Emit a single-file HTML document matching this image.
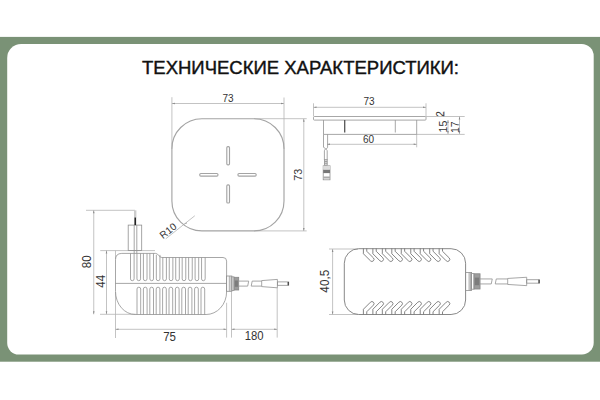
<!DOCTYPE html>
<html><head><meta charset="utf-8">
<style>
html,body{margin:0;padding:0;background:#fff;width:600px;height:400px;overflow:hidden}
svg{display:block}
text{font-family:"Liberation Sans",sans-serif}
</style></head>
<body>
<svg width="600" height="400" viewBox="0 0 600 400">
<rect x="0" y="0" width="600" height="400" fill="#fff"/>
<rect x="0" y="36.9" width="600" height="324.8" fill="#7a9276"/>
<path d="M21.2 43.9H581.7A12 12 0 0 1 593.7 55.9V342.7A11.8 11.8 0 0 1 581.9 354.5H18.7A11.5 11.5 0 0 1 7.2 343V57.9A14 14 0 0 1 21.2 43.9Z" fill="#fff"/>
<text x="142" y="73.5" font-size="18" textLength="317" lengthAdjust="spacingAndGlyphs" fill="#111" stroke="#111" stroke-width="0.4">ТЕХНИЧЕСКИЕ ХАРАКТЕРИСТИКИ:</text>
<g fill="none" stroke="#b4b4b4" stroke-width="0.8"><path d="M171.9 97.2V149 M284 97.5V149 M171.9 103.5H284 M254 118.7H306.7 M254 230.9H306.7 M303.8 118.7V230.9 M194.8 215.75L165.75 238.8 M313.5 103.3V116 M426 103.3V116 M313.5 107.3H426 M426 116.5H464.7 M416.7 134.4H464.7 M416.7 134.4V147.3 M327 144.3H416.7 M448 120V134 M459.5 116.5V134 M444.3 111.5V116.4 M86 210.3H135 M93.75 210.3V314.3 M100.25 250.6H155 M106.5 250.6V314.3 M100 314.3H136 M115.5 250.6V259 M115.5 292V338 M226.6 302.75V337.6 M231.5 291.5V337.6 M277.2 287.75V337.6 M115.5 329.3H226.6 M231.5 329.3H277.2 M329 249H358 M329 314.5H358 M332.6 249V314.5"/></g>
<g fill="#8a8a8a" stroke="none"><path d="M171.9 103.5L174.9 102.7L174.9 104.3Z M284 103.5L281 102.7L281 104.3Z M303.8 118.7L303 121.7L304.6 121.7Z M303.8 230.9L303 227.9L304.6 227.9Z M184 224.2L186.6 222.6L187.1 223.3Z M313.5 107.3L316.5 106.5L316.5 108.1Z M426 107.3L423 106.5L423 108.1Z M327 144.3L330 143.5L330 145.1Z M416.7 144.3L413.7 143.5L413.7 145.1Z M448 120L447.2 123L448.8 123Z M448 134L447.2 131L448.8 131Z M459.5 116.5L458.7 119.5L460.3 119.5Z M459.5 134L458.7 131L460.3 131Z M93.75 210.3L92.95 213.3L94.55 213.3Z M93.75 314.3L92.95 311.3L94.55 311.3Z M106.5 250.6L105.7 253.6L107.3 253.6Z M106.5 314.3L105.7 311.3L107.3 311.3Z M115.5 329.3L118.5 328.5L118.5 330.1Z M226.6 329.3L223.6 328.5L223.6 330.1Z M231.5 329.3L234.5 328.5L234.5 330.1Z M277.2 329.3L274.2 328.5L274.2 330.1Z M332.6 249L331.8 252L333.4 252Z M332.6 314.5L331.8 311.5L333.4 311.5Z"/></g>
<g fill="none" stroke="#909090" stroke-width="0.8"><g stroke="#a4a4a4" stroke-width="1.15"><rect x="171.9" y="118.7" width="112.1" height="112.2" rx="30"/><rect x="226.8" y="146.6" width="2.7" height="18.2" rx="1.1"/><rect x="226.8" y="184.8" width="2.7" height="18.2" rx="1.1"/><rect x="199.75" y="173.45" width="18.2" height="2.7" rx="1.1"/><rect x="237.95" y="173.45" width="18.2" height="2.7" rx="1.1"/></g><rect x="313.5" y="116.5" width="112.5" height="3.6" rx="0.8"/><path d="M323.5 120.1V134.4H416.7V120.1 M395.3 120.1V132.5"/><path d="M323.5 134.4V147.3 M327.6 134.4V147.3 M323.5 147.3L325.6 148.6L324.4 150.7 M327.6 147.3L326.2 149.2L327.2 150.7 M324.4 150.7V160 M327.2 150.7V160"/><rect x="324.4" y="159.7" width="2.8" height="5.6" fill="#ddd"/><path d="M324.4 161.5H327.2 M324.4 163.3H327.2" stroke="#999" stroke-width="0.9"/><rect x="323.2" y="165.8" width="6.8" height="14"/><rect x="323.2" y="165.8" width="6.8" height="4" fill="#ddd" stroke="none"/><rect x="323.2" y="169.8" width="6.8" height="3.3" fill="#777" stroke="none"/><rect x="323.2" y="176.5" width="6.8" height="2" fill="#aaa" stroke="none"/><path d="M344.7 120.1V132.5" stroke="#555" stroke-width="1.3"/><rect x="128.2" y="225.1" width="13.5" height="25.3" /><path d="M134.2 225.1V253.4 M136.8 225.1V253.4"/><path d="M115.5 259.8 Q115.5 253.4 121.8 253.4 H155.5 C158.8 253.4 158.6 257.5 161.9 257.5 H223 Q226.6 257.5 226.6 261.1 V291.8 A20.5 22.7 0 0 1 206.1 314.5 H135.3 A19.8 23.2 0 0 1 115.5 291.3 Z"/><path d="M115.5 283.4H226.6"/><path d="M130.5 253.4V278.9 A1.8 1.8 0 0 0 134.1 278.9V253.4 M136.96 253.4V278.9 A1.8 1.8 0 0 0 140.56 278.9V253.4 M143.42 253.4V278.9 A1.8 1.8 0 0 0 147.02 278.9V253.4 M149.88 253.4V278.9 A1.8 1.8 0 0 0 153.48 278.9V253.4 M156.34 254.91V278.9 A1.8 1.8 0 0 0 159.94 278.9V254.91 M162.8 257.5V278.9 A1.8 1.8 0 0 0 166.4 278.9V257.5 M169.26 257.5V278.9 A1.8 1.8 0 0 0 172.86 278.9V257.5 M175.72 257.5V278.9 A1.8 1.8 0 0 0 179.32 278.9V257.5 M182.18 257.5V278.9 A1.8 1.8 0 0 0 185.78 278.9V257.5 M188.64 257.5V278.9 A1.8 1.8 0 0 0 192.24 278.9V257.5 M195.1 257.5V278.9 A1.8 1.8 0 0 0 198.7 278.9V257.5 M201.56 257.5V278.9 A1.8 1.8 0 0 0 205.16 278.9V257.5 M137 314.5V289.05 A1.85 1.85 0 0 1 140.7 289.05V314.5 M143.4 314.5V289.05 A1.85 1.85 0 0 1 147.1 289.05V314.5 M149.8 314.5V289.05 A1.85 1.85 0 0 1 153.5 289.05V314.5 M156.2 314.5V289.05 A1.85 1.85 0 0 1 159.9 289.05V314.5 M162.6 314.5V289.05 A1.85 1.85 0 0 1 166.3 289.05V314.5 M169 314.5V289.05 A1.85 1.85 0 0 1 172.7 289.05V314.5 M175.4 314.5V289.05 A1.85 1.85 0 0 1 179.1 289.05V314.5 M181.8 314.5V289.05 A1.85 1.85 0 0 1 185.5 289.05V314.5 M188.2 314.5V289.05 A1.85 1.85 0 0 1 191.9 289.05V314.5 M194.6 314.5V289.05 A1.85 1.85 0 0 1 198.3 289.05V314.5 M201 314.5V289.05 A1.85 1.85 0 0 1 204.7 289.05V314.5"/><rect x="226.5" y="276" width="5.4" height="15.3"/><path d="M229.3 276V291.3 M231 276V291.3"/><rect x="231.9" y="276.85" width="2.1" height="13.6"/><rect x="234" y="277.3" width="4.7" height="12.7" fill="#9c9c9c" stroke="#888"/><rect x="234.8" y="280.47" width="3.1" height="6.35" fill="#7c7c7c" stroke="none"/><path d="M238.7 281.1H248.7 L247.7 286.1H238.7"/><path d="M252.2 281.1H261.7 M251.2 286.1H261.7 M252.2 281.1L251.2 286.1"/><path d="M261.7 280.6L277.4 279.4V287.8L261.7 286.6Z"/><rect x="277.4" y="281.9" width="11.3" height="3.4"/><path d="M288.2 281.9V285.3" stroke="#333" stroke-width="1.2"/><rect x="344.3" y="248.7" width="121.3" height="65.8" rx="14.5" stroke="#7a7a7a" stroke-width="0.9"/><path d="M363.4 248.4V253.75 L370.47 260.82 A2.07 2.07 0 0 0 373.4 257.89 L366.75 251.25V248.4 M363.4 314.6V309.25 L370.47 302.18 A2.07 2.07 0 0 1 373.4 305.11 L366.75 311.75V314.6 M372.87 248.4V253.75 L379.94 260.82 A2.07 2.07 0 0 0 382.87 257.89 L376.22 251.25V248.4 M372.87 314.6V309.25 L379.94 302.18 A2.07 2.07 0 0 1 382.87 305.11 L376.22 311.75V314.6 M382.34 248.4V253.75 L389.41 260.82 A2.07 2.07 0 0 0 392.34 257.89 L385.69 251.25V248.4 M382.34 314.6V309.25 L389.41 302.18 A2.07 2.07 0 0 1 392.34 305.11 L385.69 311.75V314.6 M391.81 248.4V253.75 L398.88 260.82 A2.07 2.07 0 0 0 401.81 257.89 L395.16 251.25V248.4 M391.81 314.6V309.25 L398.88 302.18 A2.07 2.07 0 0 1 401.81 305.11 L395.16 311.75V314.6 M401.28 248.4V253.75 L408.35 260.82 A2.07 2.07 0 0 0 411.28 257.89 L404.63 251.25V248.4 M401.28 314.6V309.25 L408.35 302.18 A2.07 2.07 0 0 1 411.28 305.11 L404.63 311.75V314.6 M410.75 248.4V253.75 L417.82 260.82 A2.07 2.07 0 0 0 420.75 257.89 L414.1 251.25V248.4 M410.75 314.6V309.25 L417.82 302.18 A2.07 2.07 0 0 1 420.75 305.11 L414.1 311.75V314.6 M420.22 248.4V253.75 L427.29 260.82 A2.07 2.07 0 0 0 430.22 257.89 L423.57 251.25V248.4 M420.22 314.6V309.25 L427.29 302.18 A2.07 2.07 0 0 1 430.22 305.11 L423.57 311.75V314.6 M429.69 248.4V253.75 L436.76 260.82 A2.07 2.07 0 0 0 439.69 257.89 L433.04 251.25V248.4 M429.69 314.6V309.25 L436.76 302.18 A2.07 2.07 0 0 1 439.69 305.11 L433.04 311.75V314.6 M439.16 248.4V253.75 L446.23 260.82 A2.07 2.07 0 0 0 449.16 257.89 L442.51 251.25V248.4 M439.16 314.6V309.25 L446.23 302.18 A2.07 2.07 0 0 1 449.16 305.11 L442.51 311.75V314.6" stroke="#777" stroke-width="0.9"/><rect x="465.6" y="272.4" width="6" height="18"/><path d="M469.1 272.4V290.4 M470.4 272.4V290.4"/><rect x="471.6" y="273.6" width="2.4" height="15.6"/><rect x="474" y="273.77" width="6.05" height="15.25" fill="#9c9c9c" stroke="#888"/><rect x="474.8" y="277.59" width="4.45" height="7.62" fill="#7c7c7c" stroke="none"/><path d="M480.05 278.95H492.25 L491.25 283.95H480.05"/><path d="M496.25 278.95H507.7 M495.25 283.95H507.7 M496.25 278.95L495.25 283.95"/><path d="M507.7 278.45L526.7 277.25V285.65L507.7 284.45Z"/><rect x="526.7" y="279.75" width="12.8" height="3.4"/><path d="M539 279.75V283.15" stroke="#333" stroke-width="1.2"/></g>
<rect x="134" y="210.3" width="2.4" height="7.3" fill="#ccc"/><rect x="134.4" y="217.5" width="1.7" height="7.6" fill="#222"/>
<g font-size="10" fill="#333" text-anchor="middle">
<text x="228" y="102">73</text>
<text font-size="10.8" transform="translate(302.3 174.7) rotate(-90)">73</text>
<text x="369" y="105.3">73</text>
<text x="368.5" y="142.8">60</text>
<text font-size="11.5" transform="translate(169.6 340.8) scale(1 1.1)">75</text>
<text font-size="11.3" transform="translate(254.2 340.4) scale(1 1.1)">180</text>
<text font-size="11.5" transform="translate(90.8 261.75) rotate(-90) scale(1 1.07)">80</text>
<text font-size="11.5" transform="translate(105 281.25) rotate(-90) scale(1 1.08)">44</text>
<text font-size="11.8" transform="translate(329 281.2) rotate(-90) scale(1 1.14)">40,5</text>
<text transform="translate(443.8 114) rotate(-90)">2</text>
<text font-size="10.6" transform="translate(446.8 126.5) rotate(-90)">15</text>
<text font-size="10.6" transform="translate(458.6 127.2) rotate(-90)">17</text>
<text transform="translate(170.2 233.6) rotate(-38.4)">R10</text>
</g>
</svg>
</body></html>
